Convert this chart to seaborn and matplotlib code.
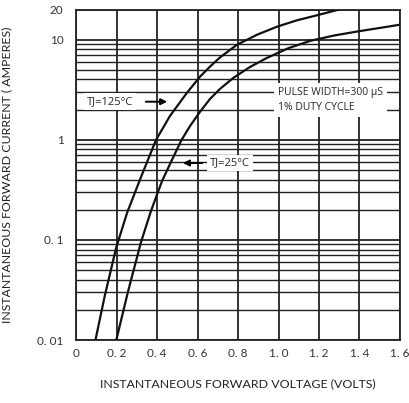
import numpy as np
import pandas as pd
import seaborn as sns
import matplotlib.pyplot as plt
from matplotlib.ticker import FixedLocator, LogLocator, NullFormatter

# curve points (volts, amperes)
v_125 = [0.096, 0.143, 0.198, 0.252, 0.321, 0.395, 0.464, 0.547, 0.612, 0.662,
         0.711, 0.794, 0.894, 0.994, 1.091, 1.194, 1.312]
i_125 = [0.01, 0.0282, 0.083, 0.186, 0.425, 0.995, 1.73, 2.93, 4.26, 5.39,
         6.64, 8.87, 11.2, 13.5, 15.6, 17.6, 20.3]
v_25 = [0.199, 0.257, 0.321, 0.370, 0.425, 0.469, 0.521, 0.563, 0.612, 0.662,
        0.711, 0.777, 0.859, 0.942, 1.047, 1.156, 1.274, 1.393, 1.501, 1.600]
i_25 = [0.01, 0.0306, 0.095, 0.194, 0.388, 0.600, 0.995, 1.37, 1.90, 2.56,
        3.22, 4.15, 5.33, 6.56, 8.19, 9.72, 11.0, 12.1, 13.1, 14.1]

x_ticks = [0, 0.2, 0.4, 0.6, 0.8, 1.0, 1.2, 1.4, 1.6]
x_labels = ["0", "0. 2", "0. 4", "0. 6", "0. 8", "1. 0", "1. 2", "1. 4", "1. 6"]
y_ticks = [0.01, 0.1, 1, 10, 20]
y_labels = ["0. 01", "0. 1", "1", "10", "20"]

df = pd.concat([
    pd.DataFrame({"v": v_125, "i": i_125, "tj": "125"}),
    pd.DataFrame({"v": v_25, "i": i_25, "tj": "25"}),
])

sns.set_theme(style="white")
plt.rcParams["font.family"] = ["Lato", "DejaVu Sans"]

fig = plt.figure(figsize=(4.10, 4.03), dpi=100)
ax = fig.add_axes([0.1854, 0.1563, 0.7902, 0.8201])

sns.lineplot(data=df, x="v", y="i", units="tj", estimator=None, sort=False,
             color="#111111", lw=1.6, ax=ax, zorder=4)

ax.set_yscale("log")
ax.set_xlim(0, 1.6)
ax.set_ylim(0.01, 20)
ax.xaxis.set_major_locator(FixedLocator(x_ticks))
ax.set_xticklabels(x_labels)
ax.yaxis.set_major_locator(FixedLocator(y_ticks))
ax.set_yticklabels(y_labels)
ax.yaxis.set_minor_locator(LogLocator(base=10, subs=np.arange(2, 10)))
ax.yaxis.set_minor_formatter(NullFormatter())
ax.tick_params(which="both", length=0, labelsize=8.5, labelcolor="#333333")
ax.tick_params(axis="x", pad=6)
ax.tick_params(axis="y", pad=9)

ax.grid(which="major", color="#222222", lw=1.3)
ax.grid(which="minor", axis="y", color="#222222", lw=1.0)
for s in ax.spines.values():
    s.set_color("#222222")
    s.set_linewidth(1.3)

ax.set_xlabel("INSTANTANEOUS FORWARD VOLTAGE (VOLTS)", fontsize=8.9, color="#222222")
ax.set_ylabel("INSTANTANEOUS FORWARD CURRENT ( AMPERES)", fontsize=8.9, color="#222222")
ax.xaxis.set_label_coords(0.5, -0.115)
ax.yaxis.set_label_coords(-0.1975, 0.5)

afont = ["Open Sans", "DejaVu Sans"]
box = dict(fc="white", ec="none", pad=2)
arrow = dict(arrowstyle="-|>", color="black", lw=1.4, mutation_scale=9)

ax.annotate("", xy=(0.464, 2.4), xytext=(0.331, 2.4), arrowprops=arrow, zorder=5)
ax.text(0.054, 2.4, "TJ=125°C", fontsize=8, family=afont, va="center", ha="left",
        bbox=box, zorder=5)

ax.annotate("", xy=(0.514, 0.586), xytext=(0.637, 0.586), arrowprops=arrow, zorder=5)
ax.text(0.662, 0.586, "TJ=25°C", fontsize=8, family=afont, va="center", ha="left",
        bbox=box, zorder=5)

ax.text(0.998, 2.5, "PULSE WIDTH=300 µS\n1% DUTY CYCLE", fontsize=7.5, family=afont,
        va="center", ha="left", linespacing=1.5,
        bbox=dict(fc="white", ec="none", pad=3), zorder=5)

fig.savefig("out.png", dpi=100)
